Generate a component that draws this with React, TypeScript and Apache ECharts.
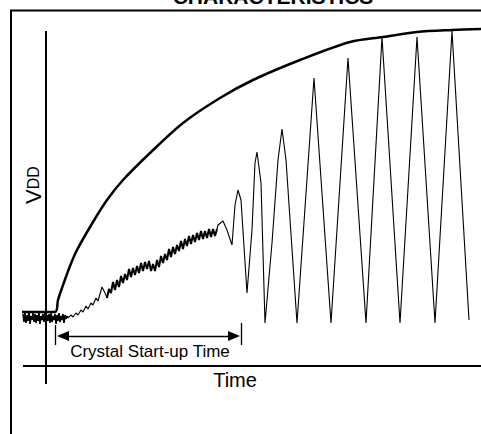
import React, { useEffect, useRef } from "react";
import * as echarts from "echarts";

// Axis ranges (arbitrary time units / voltage units)
const timeRange: [number, number] = [-24, 435];
const voltRange: [number, number] = [-18, 356];

// Drawn axis lines (extend a little past the origin)
const timeAxisLine: [number, number][] = [[-23, 0], [435, 0]];
const voltAxisLine: [number, number][] = [[0, -18], [0, 335]];

// VDD supply ramp
const vddCurve: [number, number][] = [
  [-24, 54], [9, 54], [12, 66], [16, 78], [24, 100], [31, 116], [47, 144], [61, 166],
  [77, 186], [104, 213], [137, 243], [174, 268], [207, 286], [254, 306],
  [304, 324], [337, 329], [371, 334], [406, 336], [435, 337],
];

// Oscillator output: noisy floor before start-up
const oscFloorNoise: [number, number][] = [
  [-23, 52], [-22, 44], [-21, 53], [-20, 43], [-19, 51], [-18, 45], [-17, 54], [-16, 42],
  [-15, 50], [-14, 46], [-13, 53], [-12, 44], [-11, 52], [-10, 43], [-9, 51], [-8, 45],
  [-7, 53], [-6, 42], [-5, 50], [-4, 46], [-3, 52], [-2, 44], [-1, 54], [0, 43],
  [1, 51], [2, 45], [3, 52], [4, 43], [5, 53], [6, 44], [7, 50], [8, 46],
  [9, 52], [10, 42], [11, 51], [12, 45], [13, 53], [14, 44], [15, 50], [16, 46],
  [17, 52], [18, 43], [19, 51], [20, 47], [21, 50], [22, 48],
];

// Oscillator output: small zig-zag rise
const oscEarlyRise: [number, number][] = [
  [22, 48], [25, 51], [27, 49], [30, 53], [32, 51], [35, 56], [37, 54], [40, 60], [42, 57],
  [45, 63], [47, 61], [50, 68], [52, 65], [56, 79], [59, 73], [61, 68],
];

// Oscillator output: noisy ramp
const oscNoisyRamp: [number, number][] = [
  [61, 68], [63, 77], [65, 73], [67, 84], [69, 76], [71, 86], [73, 79], [75, 90],
  [77, 83], [79, 92], [81, 86], [83, 97], [85, 89], [87, 98], [89, 91], [91, 100],
  [93, 93], [95, 103], [97, 95], [99, 104], [101, 97], [103, 105], [105, 95],
  [107, 102], [109, 95], [111, 106], [113, 99], [115, 110], [117, 103], [119, 112],
  [121, 106], [123, 117], [125, 109], [127, 119], [129, 112], [131, 121], [133, 115],
  [135, 125], [137, 117], [139, 127], [141, 120], [143, 130], [145, 122], [147, 131],
  [149, 124], [151, 133], [153, 126], [155, 135], [157, 127], [159, 135], [161, 128],
  [163, 137], [165, 129], [167, 137], [169, 130], [171, 137],
];

// Oscillator output: growing oscillation
const oscWave: [number, number][] = [
  [171, 137], [172, 141], [177, 145], [181, 136], [186, 121], [189, 161], [192, 176], [195, 166],
  [201, 73], [206, 136], [209, 203], [211, 214], [215, 183], [219, 43], [226, 123],
  [232, 206], [236, 237], [240, 206], [251, 43], [268, 288], [285, 43], [302, 308],
  [320, 43], [336, 329], [354, 43], [371, 329], [389, 43], [406, 335], [423, 46],
];

// Start-up time annotation
const startupLevel = 30;
const startupFrom = 9;
const startupTo = 195;
const arrowTipFrom = 17;
const arrowTipTo = 188;
const tickFrom: [number, number] = [41, 21];
const tickTo: [number, number] = [43, 21];

const titleText = "CHARACTERISTICS";
const xLabel = "Time";
const annotationText = "Crystal Start-up Time";

const FONT = "'Liberation Sans', Arial, Helvetica, sans-serif";

const plainLine = (name: string, data: [number, number][], width: number, extra: any = {}) => ({
  name,
  type: "line",
  data,
  symbol: "none",
  clip: false,
  silent: true,
  lineStyle: { color: "#000", width },
  ...extra,
});

export default function App() {
  const ref = useRef<HTMLDivElement>(null);

  useEffect(() => {
    if (!ref.current) return;
    const chart = echarts.init(ref.current, undefined, { renderer: "svg" });

    chart.setOption({
      animation: false,
      backgroundColor: "#fff",
      grid: { left: 22, top: 10, right: 0, bottom: 50 },
      xAxis: { type: "value", min: timeRange[0], max: timeRange[1], show: false },
      yAxis: { type: "value", min: voltRange[0], max: voltRange[1], show: false },
      graphic: [
        {
          type: "rect",
          shape: { x: 11, y: 10.5, width: 490, height: 440 },
          style: { fill: "none", stroke: "#000", lineWidth: 2 },
          silent: true,
        },
        {
          type: "text",
          x: 273,
          y: -4,
          style: {
            text: titleText,
            font: `bold 21px ${FONT}`,
            fill: "#000",
            textAlign: "center",
            textVerticalAlign: "middle",
          },
        },
        {
          type: "text",
          x: 235,
          y: 380,
          style: {
            text: xLabel,
            font: `20px ${FONT}`,
            fill: "#000",
            textAlign: "center",
            textVerticalAlign: "middle",
          },
        },
        {
          type: "text",
          x: 150,
          y: 351,
          style: {
            text: annotationText,
            font: `17px ${FONT}`,
            fill: "#000",
            textAlign: "center",
            textVerticalAlign: "middle",
          },
        },
        {
          type: "text",
          x: 33,
          y: 185,
          rotation: Math.PI / 2,
          style: {
            text: "{v|V}{d|DD}",
            textAlign: "center",
            textVerticalAlign: "middle",
            fill: "#000",
            rich: {
              v: { fontSize: 22, fontFamily: FONT, fill: "#000", verticalAlign: "middle" },
              d: { fontSize: 16, fontFamily: FONT, fill: "#000", verticalAlign: "middle" },
            },
          },
        },
      ],
      series: [
        plainLine("time axis", timeAxisLine, 2),
        plainLine("voltage axis", voltAxisLine, 2),
        plainLine("VDD", vddCurve, 2.5, { smooth: 0.3 }),
        plainLine("Oscillator floor", oscFloorNoise, 1.6),
        plainLine("Oscillator rise", oscEarlyRise, 1.1),
        plainLine("Oscillator ramp", oscNoisyRamp, 2),
        plainLine("Oscillator", oscWave, 1.1, {
          markLine: {
            silent: true,
            animation: false,
            symbolSize: [10, 12],
            label: { show: false },
            lineStyle: { color: "#000", width: 1.3, type: "solid" },
            data: [
              [
                { coord: [startupFrom, tickFrom[0]], symbol: "none" },
                { coord: [startupFrom, tickFrom[1]], symbol: "none" },
              ],
              [
                { coord: [startupTo, tickTo[0]], symbol: "none" },
                { coord: [startupTo, tickTo[1]], symbol: "none" },
              ],
              [
                { coord: [arrowTipFrom, startupLevel], symbol: "triangle" },
                { coord: [arrowTipTo, startupLevel], symbol: "triangle" },
              ],
            ],
          },
        }),
      ],
    });

    return () => chart.dispose();
  }, []);

  return (
    <div
      ref={ref}
      style={{ position: "absolute", left: 0, top: 0, width: 481, height: 434 }}
    />
  );
}
